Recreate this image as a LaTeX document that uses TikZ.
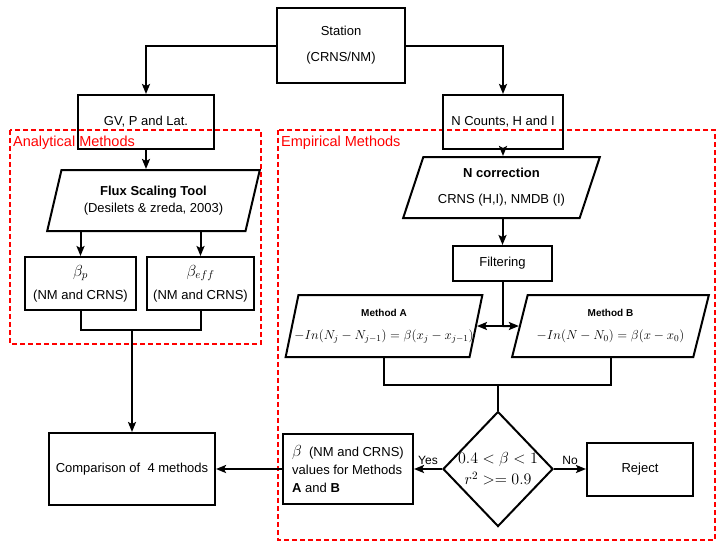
\documentclass[tikz,border=0pt]{standalone}
\usepackage{fix-cm}
\usepackage{fontspec}
\setmainfont{Liberation Sans}
\usepackage{amsmath,amssymb}
\usetikzlibrary{shapes,arrows.meta,positioning,calc}

\begin{document}
\begin{tikzpicture}[x=1pt,y=-1pt,
    font=\fontsize{13}{15}\selectfont,
    box/.style={draw, line width=2pt, align=center, inner sep=1pt},
    para/.style={draw, line width=2pt, trapezium, trapezium left angle=73,
        trapezium right angle=107, trapezium stretches=true, align=center,
        inner xsep=-16pt, inner ysep=1pt},
    decision/.style={draw, line width=2pt, diamond, align=center, inner sep=-8pt},
    flow/.style={line width=2pt, -{Stealth[length=10pt,width=8pt,inset=2pt]}},
    link/.style={line width=2pt},
    group/.style={draw=red, line width=1.6pt, dash pattern=on 5pt off 3pt},
    grouplabel/.style={red, font=\fontsize{14.5}{16}\selectfont, anchor=west, inner sep=0pt}]

\useasboundingbox (0,0) rectangle (723,550);

% Dashed groups
\draw[group] (10,130) rectangle (261,344);
\node[grouplabel] (anlab) at (13,143) {Analytical Methods};
\draw[group] (278,130) rectangle (715,540);
\node[grouplabel] (emplab) at (281,143) {Empirical Methods};

% Station and inputs
\node[box, minimum width=128pt, minimum height=75pt, font=\fontsize{13}{26}\selectfont] (station) at (341,45.5) {\rule{0pt}{8pt}Station\\(CRNS/NM)};
\node[box, minimum width=136pt, minimum height=54pt] (gv) at (146,122) {GV, P and Lat.};
\node[box, minimum width=120pt, minimum height=54pt] (ncount) at (503,122) {N Counts, H and I};

% Analytical branch
\node[para, minimum width=213pt, minimum height=61pt, trapezium left angle=75,
    trapezium right angle=105, font=\fontsize{13}{17}\selectfont] (flux) at (153.5,200.5) {\textbf{Flux Scaling Tool}\\(Desilets \& zreda, 2003)};
\node[box, minimum width=111pt, minimum height=53pt, font=\fontsize{13}{23}\selectfont] (bp) at (80.5,283.5) {{\fontsize{16}{16}\selectfont$\beta_p$}\\(NM and CRNS)};
\node[box, minimum width=107pt, minimum height=53pt, font=\fontsize{13}{23}\selectfont] (beff) at (200.5,283.5) {{\fontsize{16}{16}\selectfont$\beta_{eff}$}\\(NM and CRNS)};

% Empirical branch
\node[para, minimum width=197pt, minimum height=61pt, font=\fontsize{13}{26}\selectfont] (ncor) at (501.5,187.5) {\textbf{N correction}\\CRNS (H,I), NMDB (I)};
\node[box, minimum width=99pt, minimum height=35pt] (filt) at (502.5,263.5) {Filtering};
\node[para, minimum width=197pt, minimum height=62pt, font=\fontsize{13}{23}\selectfont] (metA) at (384,326) {{\fontsize{10}{12}\selectfont\textbf{Method A}}\\$-In(N_j-N_{j-1})=\beta(x_j-x_{j-1})$};
\node[para, minimum width=197pt, minimum height=62pt, font=\fontsize{13}{23}\selectfont] (metB) at (610.5,326) {{\fontsize{10}{12}\selectfont\textbf{Method B}}\\$-In(N-N_0)=\beta(x-x_0)$};

% Decision and results
\node[decision, minimum width=110pt, minimum height=115pt, font=\fontsize{16}{21}\selectfont] (check) at (498,469) {$0.4<\beta<1$\\$r^2>=0.9$};
\node[box, minimum width=106pt, minimum height=53pt] (reject) at (640,469) {Reject};
\node[box, minimum width=130pt, minimum height=70pt, align=left, font=\fontsize{13}{18}\selectfont] (beta) at (348,469) {{\fontsize{16}{16}\selectfont$\beta$}\ \ (NM and CRNS)\\values for Methods\\\textbf{A} and \textbf{B}};
\node[box, minimum width=166pt, minimum height=72pt] (comp) at (132,469) {Comparison of\ \ 4 methods};

% Connections
\draw[flow] (station.west) -| (gv.north);
\draw[flow] (station.east) -| (ncount.north);
\draw[flow] (gv.south) -- (gv.south |- flux.north);
\draw[flow] (flux.south -| bp.north) -- (bp.north);
\draw[flow] (flux.south -| beff.north) -- (beff.north);
\coordinate (merge) at (comp.north |- 0,330);
\draw[link] (bp.south) -- (bp.south |- merge) -- (beff.south |- merge) -- (beff.south);
\draw[flow] (merge) -- (comp.north);

\draw[flow] (ncount.south) -- (ncount.south |- ncor.north);
\draw[flow] (ncor.south -| filt.north) -- (filt.north);
\coordinate (split) at (filt.south |- metA.east);
\draw[link] (filt.south) -- (split);
\draw[flow] (split) -- (metA.east);
\draw[flow] (split) -- (metB.west);
\coordinate (join) at (check.north |- 0,385);
\draw[link] (metA.south) -- (metA.south |- join) -- (metB.south |- join) -- (metB.south);
\draw[link] (join) -- (check.north);
\draw[flow] (check.west) -- (beta.east) node[midway, above, font=\fontsize{12}{14}\selectfont] (yes) {Yes};
\draw[flow] (check.east) -- (reject.west) node[midway, above, font=\fontsize{12}{14}\selectfont] (no) {No};
\draw[flow] (beta.west) -- (comp.east);

\end{tikzpicture}
\end{document}
